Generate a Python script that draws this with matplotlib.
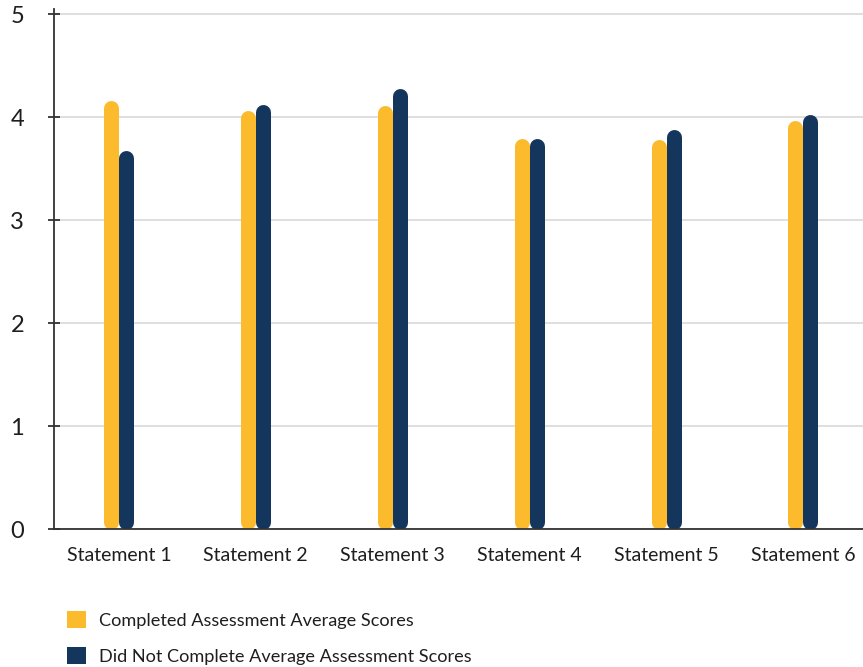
import matplotlib
matplotlib.use("Agg")
import matplotlib.pyplot as plt
from matplotlib.patches import Patch
import numpy as np

categories = ["Statement 1", "Statement 2", "Statement 3", "Statement 4", "Statement 5", "Statement 6"]
completed = [4.16, 4.06, 4.11, 3.79, 3.78, 3.97]
not_completed = [3.68, 4.12, 4.28, 3.79, 3.88, 4.03]
series_names = ["Completed Assessment Average Scores", "Did Not Complete Average Assessment Scores"]
y_ticks = [0, 1, 2, 3, 4, 5]

YELLOW = "#FBBB2C"
NAVY = "#15365C"
TEXT = "#1e1e1e"

plt.rcParams["font.family"] = ["Lato", "DejaVu Sans"]

DPI = 100
fig = plt.figure(figsize=(8.63, 6.67), dpi=DPI)
ax = fig.add_axes([54 / 863, 138 / 667, 1 - 54 / 863, 520 / 667])

ax.set_ylim(0, 5.05)
ax.set_xlim(-0.475, 5.44)

# pill-shaped bars: thick lines with round caps, trimmed so the caps end at the value
bar_px = 15.0
lw_pt = bar_px * 72 / DPI
px_per_unit_y = ax.bbox.height / (ax.get_ylim()[1] - ax.get_ylim()[0])
px_per_unit_x = ax.bbox.width / (ax.get_xlim()[1] - ax.get_xlim()[0])
r = (bar_px / 2) / px_per_unit_y
offset = (bar_px / 2) / px_per_unit_x

x = np.arange(len(categories))
for xi, v in zip(x, completed):
    ax.plot([xi - offset, xi - offset], [r, v - r], color=YELLOW, lw=lw_pt,
            solid_capstyle="round", zorder=3)
for xi, v in zip(x, not_completed):
    ax.plot([xi + offset, xi + offset], [r, v - r], color=NAVY, lw=lw_pt,
            solid_capstyle="round", zorder=4)

ax.set_yticks(y_ticks)
ax.set_yticklabels([str(t) for t in y_ticks], fontsize=17, color=TEXT)
ax.set_xticks(x)
ax.set_xticklabels(categories, fontsize=14, color=TEXT)
ax.tick_params(axis="x", length=0, pad=13)
ax.tick_params(axis="y", direction="inout", length=9, width=1.3, color="#333333", pad=17)

ax.grid(axis="y", color="#dcdcdc", lw=1.3, zorder=0)
ax.set_axisbelow(True)
for s in ["top", "right"]:
    ax.spines[s].set_visible(False)
ax.spines["left"].set_color("#333333")
ax.spines["left"].set_linewidth(1.3)
ax.spines["bottom"].set_color("#333333")
ax.spines["bottom"].set_linewidth(1.3)
ax.spines["bottom"].set_zorder(5)

handles = [Patch(facecolor=YELLOW, edgecolor="none"), Patch(facecolor=NAVY, edgecolor="none")]
fig.legend(handles, series_names, loc="upper left", bbox_to_anchor=(60 / 863, 1 - 604 / 667),
           frameon=False, fontsize=13.1, handlelength=1.05, handleheight=1.05,
           handletextpad=0.7, labelspacing=1.0, labelcolor=TEXT, borderaxespad=0)

fig.savefig("out.png", dpi=DPI)
